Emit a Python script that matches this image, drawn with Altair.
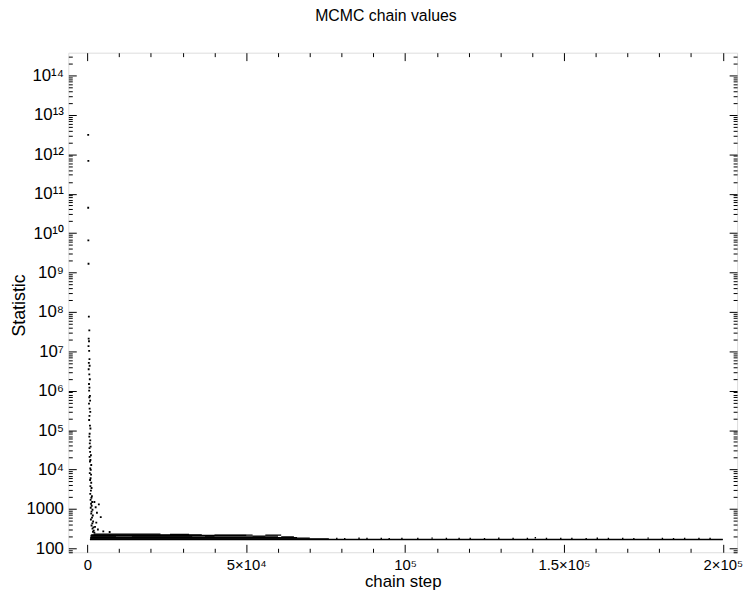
import altair as alt
import pandas as pd

FONT = "Liberation Sans"

# ---- burn-in part of the chain (step, statistic) ----
burn_steps = [250, 300, 250, 300, 350, 450, 600, 400, 500, 350, 550,
              650, 450, 700, 400, 600, 750, 500, 650, 550, 800,
              600, 850, 500, 700, 900, 650, 550, 800, 950, 700, 600,
              900, 750, 1000, 650, 850, 1100, 700, 950, 800, 1200, 900, 1050, 750, 1150, 1000,
              850, 1200, 950, 1300, 1100, 900, 1400, 1250, 1000, 1500, 1150, 1350, 1050, 1600,
              1300, 1200, 1700, 1450, 1100, 1800, 1550, 1300, 1900, 1600, 2000, 1750, 2200,
              2200, 2600, 3000, 3600, 4200, 2800, 2400, 3300, 5000, 7000]
burn_values = [3.1e12, 6.8e11, 4.4e10, 6.5e9, 1.66e9, 7.6e7, 3.4e7, 2.1e7, 1.8e7, 1.35e7, 1.02e7,
               6.3e6, 5.1e6, 4.3e6, 3.5e6, 2.6e6, 1.95e6, 1.48e6, 1.2e6, 1.0e6, 7.4e5,
               6.8e5, 5.6e5, 4.7e5, 3.5e5, 2.9e5, 2.3e5, 1.8e5, 1.3e5, 1.1e5, 8.1e4, 6.8e4,
               5.5e4, 4.6e4, 3.8e4, 3.5e4, 2.8e4, 2.3e4, 2.1e4, 1.74e4, 1.6e4, 1.3e4, 1.07e4, 9800, 8100, 7400, 6000,
               5400, 4600, 3800, 3400, 2900, 2400, 2100, 1900, 1700, 1500, 1350, 1200, 1070, 950,
               850, 760, 680, 600, 540, 480, 430, 380, 340, 316, 280, 263, 250,
               1500, 1100, 800, 1300, 620, 450, 350, 300, 270, 260]

# ---- dense part of the chain drawn as horizontal streaks ----
streak_start = [800, 800, 900, 900, 900, 1000, 14000, 37000, 52000, 61000,
                1000, 1000, 1200, 40000, 56000, 2000, 26000]
streak_end = [200000, 200000, 76000, 70000, 66000, 9000, 33000, 40000, 56000, 65000,
              60000, 50000, 36000, 52000, 61000, 23000, 32000]
streak_value = [166, 170, 175, 181, 187, 196, 196, 196, 196, 196,
                204, 212, 220, 218, 216, 230, 226]

# ---- isolated excursions after the band ----
dot_steps = [78500, 81000, 85500, 88000, 92500, 95000, 99000, 104000, 108500, 113000,
             117000, 120500, 125000, 129500, 134000, 138500, 141000, 144500, 149000, 152500,
             157000, 160500, 164000, 168500, 172000, 176500, 181000, 184500, 188000, 192500, 196000]
dot_values = [178, 176, 180, 177, 179, 176, 178, 177, 181, 177,
              178, 179, 176, 180, 177, 178, 186, 177, 179, 178,
              176, 180, 177, 178, 176, 181, 178, 176, 179, 177, 178]

# ---- axis ticks and labels ----
x_major = [0, 50000, 100000, 150000, 200000]
x_major_labels = ["0", "5×10⁴", "10⁵", "1.5×10⁵", "2×10⁵"]
x_ticks = list(range(0, 200001, 10000))
y_label_text = ["", "", "100", "1000", "10⁴", "10⁵", "10⁶", "10⁷", "10⁸", "10⁹",
                "10¹⁰", "10¹¹", "10¹²", "10¹³", "10¹⁴"]
y_lo, y_hi = 79.4, 3.78e14
y_ticks = [m * 10 ** k for k in range(1, 15) for m in range(1, 10) if y_lo <= m * 10 ** k <= y_hi]

burn = pd.DataFrame({"step": burn_steps, "stat": burn_values})
dots = pd.DataFrame({"step": dot_steps, "stat": dot_values})
streaks = pd.DataFrame({"s0": streak_start, "s1": streak_end, "stat": streak_value})

XMAJ = "(datum.value % 50000 == 0)"
YMAJ = "(abs(log(datum.value)/LN10 - round(log(datum.value)/LN10)) < 1e-6)"
x_tick_size = {"expr": f"{XMAJ} ? -8 : -4"}
y_tick_size = {"expr": f"{YMAJ} ? -8 : -4"}

x_label_expr = " : ".join(
    f"datum.value == {v} ? '{t}'" for v, t in zip(x_major, x_major_labels)) + " : ''"
y_label_expr = (f"{YMAJ} ? " + "[" + ",".join(f"'{t}'" for t in y_label_text) + "]"
                + "[round(log(datum.value)/LN10)] : ''")

x_scale = alt.Scale(domain=[-6000, 204500], nice=False, zero=False)
y_scale = alt.Scale(type="log", domain=[y_lo, y_hi], nice=False)

common = dict(domain=False, grid=False, tickColor="black", tickWidth=1,
              labelFont=FONT, labelColor="black", labelFlush=False, labelOverlap=False,
              titleFont=FONT, titleColor="black", titleFontWeight="normal")

x_axis = alt.Axis(values=x_ticks, tickSize=x_tick_size, labelExpr=x_label_expr,
                  labelFontSize=15, labelPadding=13, title="chain step",
                  titleFontSize=17, titleBaseline="middle", titleY=30, orient="bottom", **common)
y_axis = alt.Axis(values=y_ticks, tickSize=y_tick_size, labelExpr=y_label_expr,
                  labelFontSize=17, labelPadding=13, title="Statistic",
                  titleFontSize=18, titleBaseline="middle", titleX=-49, titleY=255,
                  orient="left", **common)
x_axis_top = alt.Axis(values=x_ticks, tickSize=x_tick_size, labels=False, title=None,
                      orient="top", **common)
y_axis_right = alt.Axis(values=y_ticks, tickSize=y_tick_size, labels=False, title=None,
                        orient="right", **common)

streak_layer = alt.Chart(streaks).mark_rule(color="black", strokeWidth=1.2, clip=True).encode(
    x=alt.X("s0:Q", scale=x_scale, axis=x_axis),
    x2="s1:Q",
    y=alt.Y("stat:Q", scale=y_scale, axis=y_axis),
)
point_layer = alt.Chart(burn).mark_square(color="black", size=3.5, opacity=1, clip=True).encode(
    x=alt.X("step:Q", scale=x_scale, axis=None),
    y=alt.Y("stat:Q", scale=y_scale, axis=None),
)
dot_layer = alt.Chart(dots).mark_square(color="black", size=2, opacity=1, clip=True).encode(
    x=alt.X("step:Q", scale=x_scale, axis=None),
    y=alt.Y("stat:Q", scale=y_scale, axis=None),
)
mirror_layer = alt.Chart(burn).mark_point(opacity=0).encode(
    x=alt.X("step:Q", scale=x_scale, axis=x_axis_top),
    y=alt.Y("stat:Q", scale=y_scale, axis=y_axis_right),
)

chart = alt.layer(streak_layer, point_layer, dot_layer, mirror_layer).resolve_axis(
    x="independent", y="independent"
).properties(
    width=676, height=505,
    autosize=alt.AutoSizeParams(type="none"),
    padding={"left": 61, "top": 42, "right": 7, "bottom": 37},
    title=alt.TitleParams("MCMC chain values", font=FONT, fontSize=16, fontWeight="normal",
                          color="black", anchor="middle", dx=-17, offset=24),
).configure_view(stroke="black", strokeWidth=1).configure(background="white")

chart.save("out.html", embed_options={"renderer": "svg", "actions": False})
